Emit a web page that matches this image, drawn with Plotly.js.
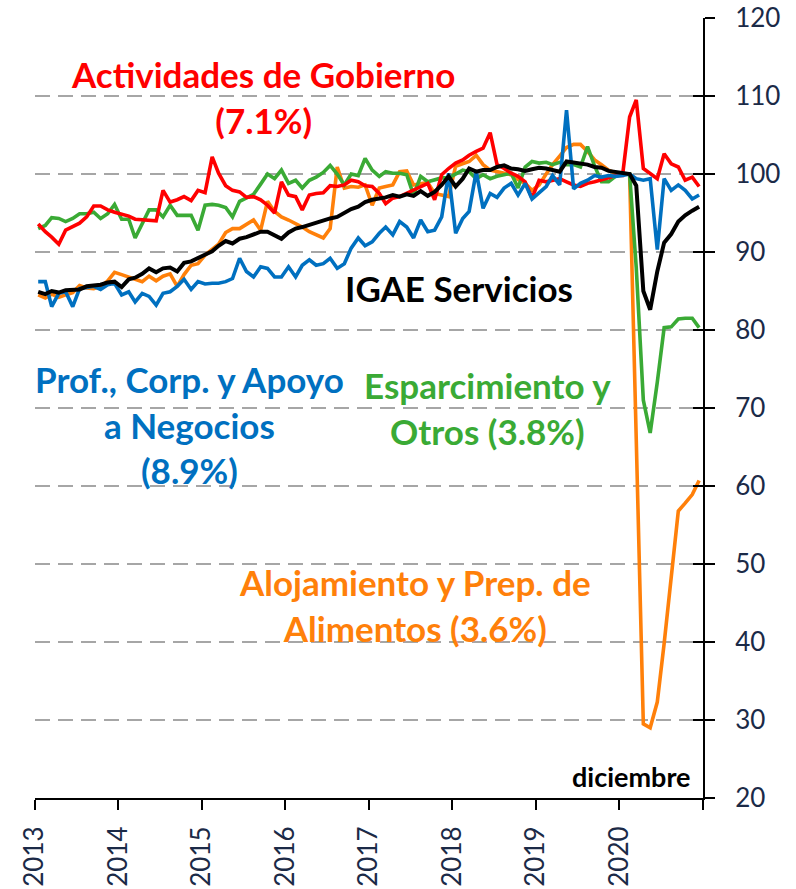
<!DOCTYPE html>
<html>
<head>
<meta charset="utf-8">
<script src="https://cdn.plot.ly/plotly-3.0.1.min.js"></script>
<style>html,body{margin:0;padding:0;background:#fff;}#chart{width:796px;height:889px;}</style>
</head>
<body>
<div id="chart"></div>
<script>
// Monthly dates Jan 2013 - Dec 2020 (plotted at mid-month)
const anios = [2013, 2014, 2015, 2016, 2017, 2018, 2019, 2020];
const fechas = [];
anios.forEach(a => { for (let m = 1; m <= 12; m++) fechas.push(a + '-' + String(m).padStart(2, '0') + '-15'); });

const gobierno = [
  93.6, 92.6, 91.9, 91.0, 92.8, 93.3, 93.7, 94.5, 95.9, 95.9, 95.4, 95.1,
  94.8, 94.6, 94.2, 94.1, 94.0, 94.0, 97.9, 96.4, 96.7, 97.1, 96.6, 97.9,
  97.6, 102.2, 100.1, 98.5, 97.9, 97.7, 97.0, 97.1, 96.7, 96.0, 95.0, 99.0,
  97.3, 97.1, 95.4, 97.3, 97.5, 97.6, 98.5, 98.4, 98.6, 99.2, 99.0, 98.5,
  98.4, 97.5, 96.2, 96.9, 97.1, 97.5, 97.9, 98.4, 98.8, 96.7, 99.9, 100.7,
  101.4, 101.8, 102.4, 102.9, 103.3, 105.3, 101.2, 100.7, 100.1, 99.7, 99.0, 96.9,
  99.2, 99.0, 99.2, 99.4, 99.0, 98.6, 98.4, 98.8, 99.0, 99.2, 99.5, 99.8,
  99.8, 107.3, 109.5, 100.7, 100.1, 99.4, 102.6, 101.3, 100.9, 99.2, 99.6, 98.4
];
const profesionales = [
  86.2, 86.2, 83.0, 84.7, 84.9, 83.0, 85.3, 85.5, 85.6, 85.2, 85.8, 86.0,
  84.5, 84.9, 83.6, 84.7, 84.3, 83.2, 84.7, 84.9, 85.6, 86.5, 85.2, 86.2,
  85.9, 86.0, 86.0, 86.2, 86.6, 89.2, 87.5, 86.8, 88.1, 87.9, 86.8, 86.8,
  88.1, 86.8, 88.3, 89.0, 88.3, 88.5, 89.2, 87.9, 88.5, 90.5, 91.8, 90.8,
  91.3, 92.4, 93.2, 92.2, 93.9, 93.2, 91.8, 94.1, 92.6, 92.8, 94.5, 100.1,
  92.4, 94.3, 95.2, 100.3, 95.6, 97.5, 97.0, 98.2, 98.8, 97.3, 98.8, 96.8,
  97.6, 98.4, 99.8, 98.6, 108.2, 98.1, 98.8, 99.2, 99.8, 99.6, 99.8, 99.7,
  99.8, 100.0, 99.4, 99.2, 99.4, 90.3, 99.4, 97.9, 98.6, 97.9, 96.8, 97.3
];
const esparcimiento = [
  93.0, 93.4, 94.4, 94.3, 93.9, 94.3, 94.9, 94.9, 95.1, 94.3, 94.9, 96.1,
  94.2, 94.2, 91.8, 93.6, 95.4, 95.4, 94.5, 96.0, 94.7, 94.7, 94.7, 92.8,
  96.0, 96.1, 96.0, 95.7, 94.5, 96.5, 96.9, 97.4, 98.7, 100.0, 99.4, 100.5,
  98.8, 99.2, 98.2, 99.2, 99.6, 100.2, 101.1, 100.0, 98.6, 100.0, 99.8, 102.0,
  100.5, 99.7, 100.3, 100.1, 100.1, 99.9, 97.3, 99.7, 99.0, 99.3, 99.5, 99.5,
  100.0, 100.5, 100.3, 99.4, 99.9, 99.4, 99.7, 99.9, 100.1, 98.2, 100.9, 101.6,
  101.4, 101.5, 101.2, 101.5, 101.2, 101.2, 100.9, 103.5, 101.0, 99.0, 99.0, 99.7,
  100.0, 100.0, 88.0, 71.0, 66.8, 73.3, 80.3, 80.4, 81.4, 81.5, 81.5, 80.3
];
const alojamiento = [
  84.5, 84.1, 84.6, 84.2, 84.5, 84.8, 85.7, 85.4, 85.3, 85.6, 86.3, 87.4,
  87.1, 86.8, 86.6, 86.2, 86.9, 86.3, 86.9, 87.2, 85.6, 87.1, 88.3, 88.5,
  89.6, 90.3, 91.0, 92.5, 93.0, 93.0, 93.5, 94.1, 92.8, 96.5, 95.2, 94.5,
  94.1, 93.7, 93.2, 92.6, 92.2, 91.8, 93.0, 100.9, 98.2, 98.4, 98.3, 98.6,
  96.0, 98.2, 98.4, 98.6, 100.3, 100.4, 98.6, 98.8, 98.9, 97.5, 97.3, 97.1,
  101.0, 101.3, 101.6, 102.4, 101.2, 100.5, 100.3, 100.1, 99.9, 99.3, 98.8, 97.9,
  98.6, 100.0, 101.2, 102.3, 103.4, 103.8, 103.8, 102.9, 101.8, 101.2, 100.5, 100.1,
  100.0, 100.0, 66.0, 29.5, 29.0, 32.3, 39.8, 48.2, 56.8, 57.8, 58.9, 60.7
];
const igaeServicios = [
  84.9, 84.6, 85.0, 84.8, 85.1, 85.1, 85.2, 85.6, 85.7, 85.8, 86.1, 86.2,
  85.5, 86.5, 86.7, 87.2, 87.9, 87.4, 87.9, 88.0, 87.5, 88.6, 88.8, 89.2,
  89.6, 90.1, 90.8, 91.4, 91.1, 91.7, 91.9, 92.2, 92.6, 92.6, 92.2, 91.7,
  92.5, 93.0, 93.2, 93.5, 93.8, 94.0, 94.3, 94.5, 95.0, 95.5, 95.8, 96.4,
  96.7, 96.8, 97.0, 97.3, 97.1, 97.4, 97.2, 97.8, 97.2, 97.7, 98.6, 99.7,
  98.4, 99.4, 100.7, 100.3, 100.5, 100.5, 100.9, 101.1, 100.7, 100.6, 100.4, 100.6,
  100.8, 100.7, 100.5, 100.3, 101.6, 101.5, 101.4, 101.2, 100.9, 100.8, 100.4, 100.3,
  100.1, 100.0, 98.5, 85.0, 82.6, 87.5, 91.2, 92.3, 93.9, 94.7, 95.3, 95.8
];

const tickAnios = ['2013', '2014', '2015', '2016', '2017', '2018', '2019', '2020', ''];
const tickFechas = ['2013-01-01', '2014-01-01', '2015-01-01', '2016-01-01', '2017-01-01', '2018-01-01', '2019-01-01', '2020-01-01', '2021-01-01'];

const C = { red: '#FF0000', blue: '#0070C0', green: '#3AAA35', orange: '#FF800A', black: '#000000' };
const lw = 3.6;

function serie(y, color, w) {
  return { x: fechas, y: y, type: 'scatter', mode: 'lines', line: { color: color, width: w || lw, shape: 'linear' }, hoverinfo: 'skip' };
}

const data = [
  serie(alojamiento, C.orange),
  serie(esparcimiento, C.green),
  serie(gobierno, C.red),
  serie(profesionales, C.blue),
  serie(igaeServicios, C.black, 4)
];

const tickFont = { family: 'Lato', size: 26, color: '#1B2A47' };
const annFont = (color, size) => ({ family: 'Lato', size: size || 35, color: color, weight: 'bold' });

const layout = {
  width: 796, height: 889,
  margin: { l: 35, r: 93, t: 18, b: 91 },
  paper_bgcolor: '#ffffff', plot_bgcolor: '#ffffff',
  showlegend: false,
  xaxis: {
    type: 'date', range: ['2013-01-01', '2021-01-01'],
    tickmode: 'array', tickvals: tickFechas, ticktext: tickAnios,
    tickangle: -90, ticks: 'outside', ticklen: 10, tickwidth: 2, tickcolor: '#000',
    showline: true, linecolor: '#000', linewidth: 2,
    showgrid: false, zeroline: false, tickfont: tickFont, ticklabelstandoff: 6
  },
  yaxis: {
    side: 'right', range: [20, 120], dtick: 10, tick0: 20,
    ticks: 'outside', ticklen: 10, tickwidth: 2, tickcolor: '#000',
    showline: true, linecolor: '#000', linewidth: 2,
    showgrid: true, gridcolor: '#A6A6A6', gridwidth: 2, griddash: '15px,8px',
    zeroline: false, tickfont: tickFont, ticklabelstandoff: 15
  },
  yaxis2: {
    overlaying: 'y', side: 'right', range: [20, 120], dtick: 10, tick0: 20,
    ticks: 'inside', ticklen: 10, tickwidth: 2, tickcolor: '#000',
    showticklabels: false, showgrid: false, zeroline: false, showline: false
  },
  annotations: [
    { xref: 'paper', yref: 'paper', x: 0.341, y: 0.899, text: 'Actividades de Gobierno<br>(7.1%)', showarrow: false, align: 'center', xanchor: 'center', yanchor: 'middle', font: annFont(C.red) },
    { xref: 'paper', yref: 'paper', x: 0.634, y: 0.654, text: 'IGAE Servicios', showarrow: false, xanchor: 'center', yanchor: 'middle', font: annFont(C.black) },
    { xref: 'paper', yref: 'paper', x: 0.232, y: 0.479, text: 'Prof., Corp. y Apoyo<br>a Negocios<br>(8.9%)', showarrow: false, align: 'center', xanchor: 'center', yanchor: 'middle', font: annFont(C.blue) },
    { xref: 'paper', yref: 'paper', x: 0.677, y: 0.500, text: 'Esparcimiento y<br>Otros (3.8%)', showarrow: false, align: 'center', xanchor: 'center', yanchor: 'middle', font: annFont(C.green) },
    { xref: 'paper', yref: 'paper', x: 0.569, y: 0.248, text: 'Alojamiento y Prep. de<br>Alimentos (3.6%)', showarrow: false, align: 'center', xanchor: 'center', yanchor: 'middle', font: annFont(C.orange) },
    { xref: 'paper', yref: 'paper', x: 0.893, y: 0.028, text: 'diciembre', showarrow: false, xanchor: 'center', yanchor: 'middle', font: annFont(C.black, 27) }
  ]
};

// dummy trace to activate the inside-tick overlay axis
data.push({ x: [fechas[0]], y: [null], yaxis: 'y2', type: 'scatter', mode: 'lines', hoverinfo: 'skip', showlegend: false });

Plotly.newPlot('chart', data, layout, { staticPlot: true, displayModeBar: false });
</script>
</body>
</html>
